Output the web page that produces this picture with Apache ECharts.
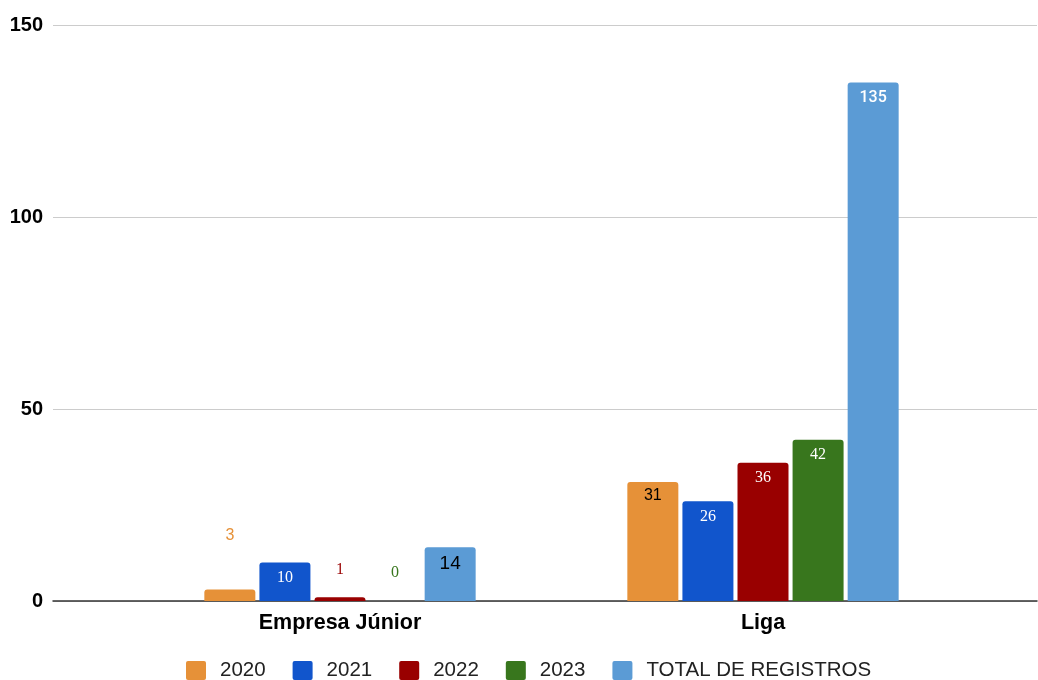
<!DOCTYPE html>
<html><head><meta charset="utf-8">
<script src="https://cdn.jsdelivr.net/npm/echarts@6/dist/echarts.min.js"></script>
<style>html,body{margin:0;padding:0;background:#fff}#c{width:1038px;height:680px}</style>
</head><body><div id="c"></div>
<script>
const categories = ['Empresa Júnior', 'Liga'];
const seriesNames = ['2020', '2021', '2022', '2023', 'TOTAL DE REGISTROS'];
const v2020 = [3, 31];
const v2021 = [10, 26];
const v2022 = [1, 36];
const v2023 = [0, 42];
const vTotal = [14, 135];
const yTicks = [0, 50, 100, 150];

const colors = ['#e69138', '#1155cc', '#990000', '#38761d', '#5b9bd5'];
const values = [v2020, v2021, v2022, v2023, vTotal];
const serif = 'Liberation Serif', sans = 'Liberation Sans';
// label styling per [series][category]
const labelStyles = [
  [{position:'top', distance:46, color:'#e69138', fontFamily:sans, fontSize:16},
   {position:'insideTop', distance:6, color:'#000', fontFamily:sans, fontSize:16}],
  [{position:'insideTop', distance:7, color:'#fff', fontFamily:serif, fontSize:16},
   {position:'insideTop', distance:8, color:'#fff', fontFamily:serif, fontSize:16}],
  [{position:'top', distance:19, color:'#990000', fontFamily:serif, fontSize:16},
   {position:'insideTop', distance:7, color:'#fff', fontFamily:serif, fontSize:16}],
  [{position:'top', distance:20, color:'#38761d', fontFamily:serif, fontSize:16},
   {position:'insideTop', distance:7, color:'#fff', fontFamily:serif, fontSize:16}],
  [{position:'insideTop', distance:7, color:'#000', fontFamily:sans, fontSize:19},
   {position:'insideTop', distance:7, color:'#fff', fontFamily:'Roboto', fontSize:16, fontWeight:500}]
];

const series = seriesNames.map((name, i) => ({
  name, type:'bar', xAxisIndex:1, yAxisIndex:1,
  barWidth:51, barGap:'8%',
  itemStyle:{color:colors[i], borderRadius:[3,3,0,0]},
  data: values[i].map((v, j) => ({value:v, label:Object.assign({show:true}, labelStyles[i][j])}))
}));

const chart = echarts.init(document.getElementById('c'));
chart.setOption({
  animation:false,
  grid:[
    {left:53, right:1, top:25, bottom:79},
    {left:128.5, right:63.5, top:25, bottom:79}
  ],
  xAxis:[
    {gridIndex:0, type:'value', min:0, max:1, axisLine:{show:true, lineStyle:{color:'#333', width:1.5}},
     axisTick:{show:false}, axisLabel:{show:false}, splitLine:{show:false}},
    {gridIndex:1, type:'category', data:categories, axisLine:{show:false}, axisTick:{show:false},
     axisLabel:{margin:11, fontFamily:sans, fontWeight:'bold', fontSize:21.5, color:'#000'}}
  ],
  yAxis:[
    {gridIndex:0, type:'value', min:0, max:150, interval:50, axisLine:{show:false}, axisTick:{show:false},
     axisLabel:{margin:10, fontFamily:sans, fontWeight:'bold', fontSize:20, color:'#000',
       formatter:(v)=> yTicks.includes(v) ? String(v) : ''},
     splitLine:{lineStyle:{color:'#cccccc'}}},
    {gridIndex:1, type:'value', min:0, max:150, interval:50, show:false}
  ],
  legend:{
    top:660, left:186, padding:0, itemWidth:20, itemHeight:19, itemGap:27,
    icon:'path://M2,0H18Q20,0,20,2V17Q20,19,18,19H2Q0,19,0,17V2Q0,0,2,0Z',
    textStyle:{fontFamily:sans, fontSize:20.5, color:'#222', padding:[0,0,0,9]},
    data:seriesNames
  },
  series
});
</script></body></html>
